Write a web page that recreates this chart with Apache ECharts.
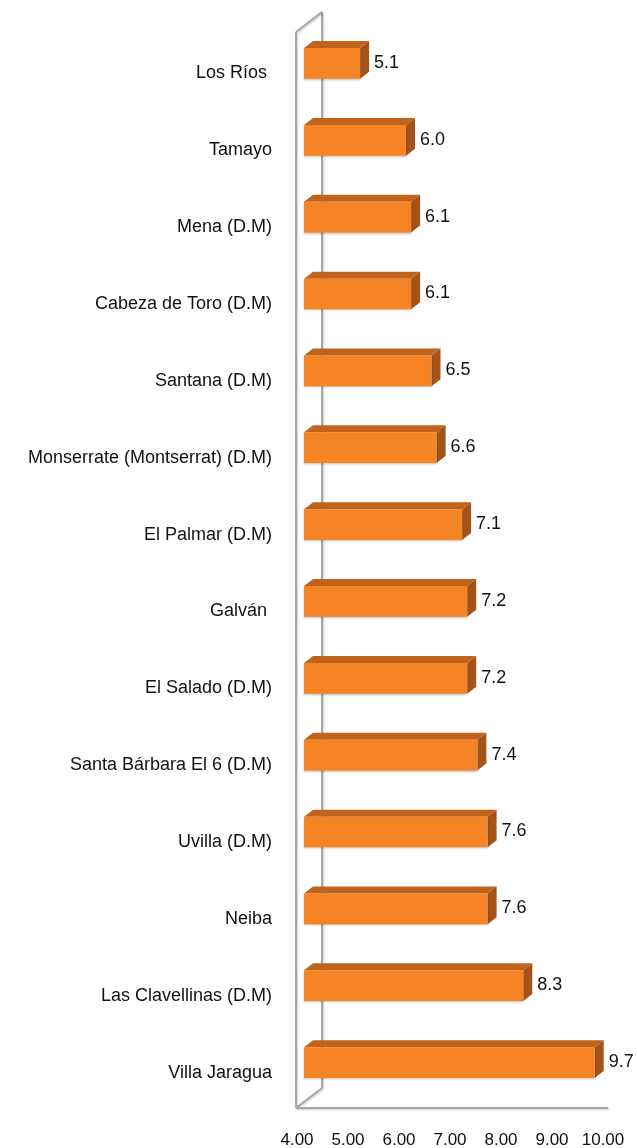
<!DOCTYPE html>
<html>
<head>
<meta charset="utf-8">
<script src="https://cdn.jsdelivr.net/npm/echarts@6/dist/echarts.min.js"></script>
<style>
html,body{margin:0;padding:0;background:#fff;}
#chart{width:637px;height:1148px;}
</style>
</head>
<body>
<div id="chart"></div>
<script>
const categories = [
  'Los Ríos ', 'Tamayo', 'Mena (D.M)', 'Cabeza de Toro (D.M)', 'Santana (D.M)',
  'Monserrate (Montserrat) (D.M)', 'El Palmar (D.M)', 'Galván ', 'El Salado (D.M)',
  'Santa Bárbara El 6 (D.M)', 'Uvilla (D.M)', 'Neiba', 'Las Clavellinas (D.M)', 'Villa Jaragua'
];
const values = [5.1, 6.0, 6.1, 6.1, 6.5, 6.6, 7.1, 7.2, 7.2, 7.4, 7.6, 7.6, 8.3, 9.7];
const axisMin = 4;
const axisMax = 10;
const axisStep = 1;

const chart = echarts.init(document.getElementById('chart'), null, {renderer: 'canvas'});

const barData = values.map((v, i) => [v, i]);
const labelFont = '"Liberation Sans", Arial, sans-serif';

function renderBar(params, api) {
  const v = api.value(0);
  const ci = api.value(1);
  const start = api.coord([axisMin, ci]);
  const end = api.coord([v, ci]);
  const band = api.size([0, 1])[1];
  const shiftX = 7, shiftY = -7;
  const dX = 9, dY = 7;
  const h = band * 0.40;
  const x0 = start[0] + shiftX;
  const x1 = end[0] + shiftX;
  const yc = start[1] + shiftY;
  const y0 = yc - h / 2;
  const y1 = yc + h / 2;
  return {
    type: 'group',
    children: [
      {
        type: 'polygon',
        shape: {points: [[x0, y0], [x0 + dX, y0 - dY], [x1 + dX, y0 - dY], [x1, y0]]},
        style: {fill: '#c2631c'}
      },
      {
        type: 'polygon',
        shape: {points: [[x1, y0], [x1 + dX, y0 - dY], [x1 + dX, y1 - dY], [x1, y1]]},
        style: {fill: '#a4541a'}
      },
      {
        type: 'rect',
        shape: {x: x0, y: y0, width: x1 - x0, height: h},
        style: {fill: '#f58426', shadowBlur: 2, shadowColor: 'rgba(0,0,0,0.25)', shadowOffsetY: 1}
      },
      {
        type: 'text',
        style: {
          text: v.toFixed(1), x: x1 + dX + 5, y: yc - dY / 2 + 3,
          textVerticalAlign: 'middle', textAlign: 'left',
          fill: '#111', font: '18px ' + labelFont
        }
      }
    ]
  };
}

function renderFrame(params, api) {
  const cs = params.coordSys;
  const fx = cs.x - 1;
  const bx = cs.x + 25;
  const top = cs.y;
  const bottom = cs.y + cs.height;
  const lineStyle = {stroke: '#a6a6a6', lineWidth: 2, shadowBlur: 2, shadowColor: 'rgba(0,0,0,0.2)', shadowOffsetX: 1, shadowOffsetY: 1};
  return {
    type: 'group',
    children: [
      {type: 'line', shape: {x1: bx, y1: top - 20, x2: bx, y2: bottom - 20}, style: lineStyle},
      {type: 'line', shape: {x1: fx, y1: top, x2: bx, y2: top - 20}, style: lineStyle},
      {type: 'line', shape: {x1: fx, y1: bottom, x2: bx, y2: bottom - 20}, style: lineStyle},
      {type: 'line', shape: {x1: fx, y1: top, x2: fx, y2: bottom}, style: lineStyle},
      {type: 'line', shape: {x1: fx, y1: bottom, x2: cs.x + cs.width + 5, y2: bottom}, style: lineStyle}
    ]
  };
}

chart.setOption({
  animation: false,
  backgroundColor: '#ffffff',
  grid: {left: 297, top: 32, width: 306, height: 1076, containLabel: false, outerBoundsMode: 'none'},
  xAxis: {
    type: 'value', min: axisMin, max: axisMax, interval: axisStep,
    axisLine: {show: false}, axisTick: {show: false}, splitLine: {show: false},
    axisLabel: {
      margin: 24, color: '#111', fontSize: 17, fontFamily: labelFont,
      formatter: v => v.toFixed(2)
    }
  },
  yAxis: {
    type: 'category', data: categories, inverse: true,
    axisLine: {show: false}, axisTick: {show: false}, splitLine: {show: false},
    axisLabel: {
      margin: 25, color: '#111', fontSize: 18, fontFamily: labelFont,
      formatter: v => '{a|' + v + '}',
      rich: {a: {fontSize: 18, fontFamily: labelFont, color: '#111', padding: [6, 0, 0, 0]}}
    }
  },
  series: [
    {type: 'custom', renderItem: renderFrame, data: [[axisMin, 0]], silent: true, z: 1},
    {type: 'custom', renderItem: renderBar, data: barData, z: 2, clip: false}
  ]
});
</script>
</body>
</html>
